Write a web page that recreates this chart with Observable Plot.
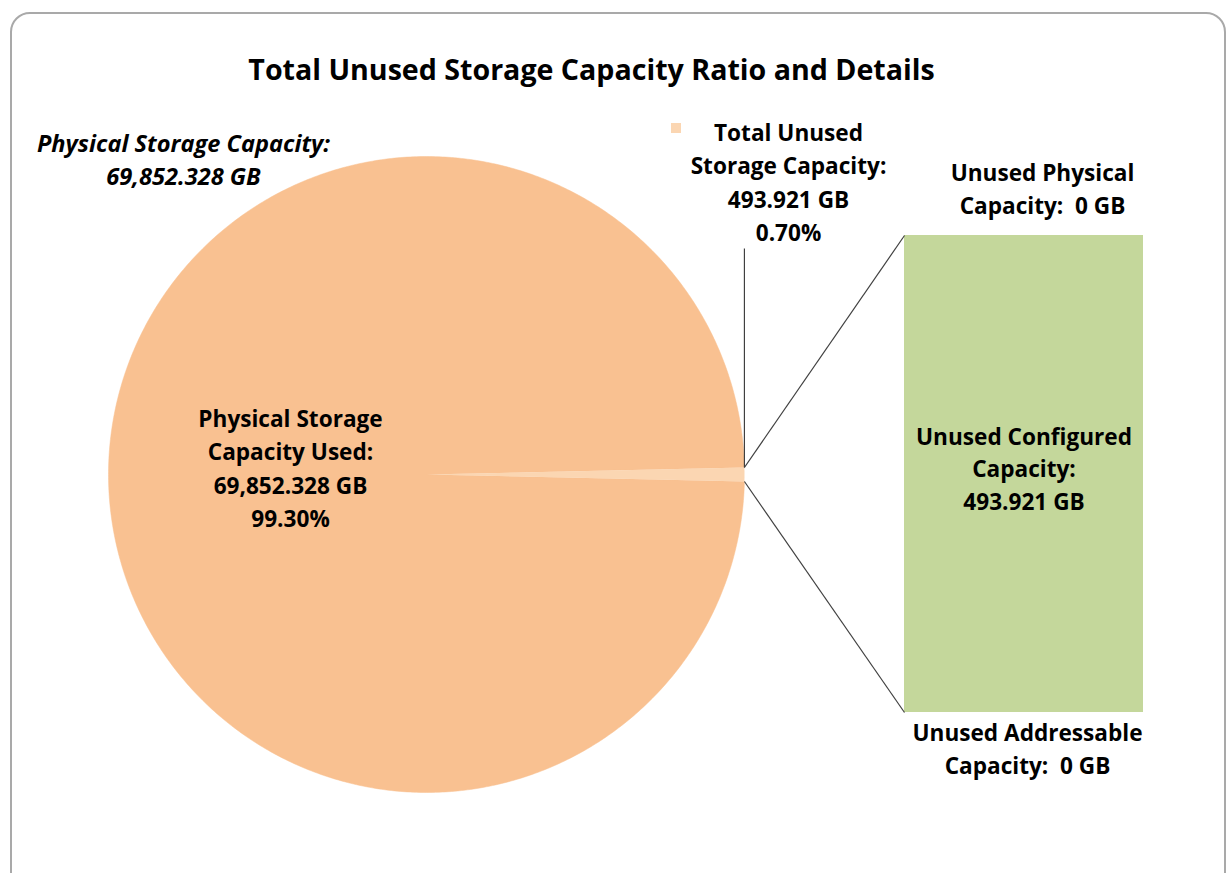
<!DOCTYPE html>
<html>
<head>
<meta charset="utf-8">
<script src="https://cdn.jsdelivr.net/npm/d3@7"></script>
<script src="https://cdn.jsdelivr.net/npm/@observablehq/plot@0.6"></script>
<style>
  html, body { margin: 0; padding: 0; background: #fff; width: 1232px; height: 873px; overflow: hidden; }
  #frame { position: absolute; left: 10px; top: 12px; width: 1216px; height: 900px; border: 2px solid #a9a9a9; border-radius: 20px; box-sizing: border-box; }
  #chart { position: absolute; left: 0; top: 0; }
  svg text { font-family: "Open Sans", Lato, sans-serif; }
</style>
</head>
<body>
<div id="frame"></div>
<div id="chart"></div>
<script>
// ---- data ----
const titleText = "Total Unused Storage Capacity Ratio and Details";
const pieCategories = ["Physical Storage Capacity Used", "Total Unused Storage Capacity"];
const pieValues = [69852.328, 493.921];
const piePercents = ["99.30%", "0.70%"];
const barCategories = ["Unused Physical Capacity", "Unused Configured Capacity", "Unused Addressable Capacity"];
const barValues = [0, 493.921, 0];
const totalCapacityLabel = ["Physical Storage Capacity:", "69,852.328 GB"];
const usedLabel = ["Physical Storage", "Capacity Used:", "69,852.328 GB", "99.30%"];
const unusedLabel = ["Total Unused", "Storage Capacity:", "493.921 GB", "0.70%"];
const physLabel = ["Unused Physical", "Capacity:  0 GB"];
const confLabel = ["Unused Configured", "Capacity:", "493.921 GB"];
const addrLabel = ["Unused Addressable", "Capacity:  0 GB"];

// ---- layout ----
const W = 1232, H = 873;
const cx = 426, cy = 474, r = 318;
const bar = {x0: 904, x1: 1143, y0: 235, y1: 712};
const colors = {used: "#f9c191", unused: "#fbd6b2", bar: "#c4d79b", line: "#404040"};

const total = d3.sum(pieValues);
const f = pieValues[1] / total;           // fraction of unused slice
const halfA = f * Math.PI;                 // half angle of unused slice, centered pointing right

function arcPoints(a0, a1, name) {
  const pts = [{slice: name, x: cx, y: cy}];
  const n = Math.max(2, Math.ceil(Math.abs(a1 - a0) / 0.01));
  for (let i = 0; i <= n; i++) {
    const a = a0 + (a1 - a0) * i / n;
    pts.push({slice: name, x: cx + r * Math.cos(a), y: cy - r * Math.sin(a)});
  }
  pts.push({slice: name, x: cx, y: cy});
  return pts;
}
const usedPts = arcPoints(halfA, 2 * Math.PI - halfA, pieCategories[0]);
const unusedPts = arcPoints(-halfA, halfA, pieCategories[1]);

// bar segments stacked top -> bottom
const barTotal = d3.sum(barValues);
let acc = 0;
const barSegs = barCategories.map((c, i) => {
  const s = {cat: c, y0: bar.y0 + (bar.y1 - bar.y0) * acc / barTotal};
  acc += barValues[i];
  s.y1 = bar.y0 + (bar.y1 - bar.y0) * acc / barTotal;
  return s;
});

const topEdge = {x: cx + r * Math.cos(halfA), y: cy - r * Math.sin(halfA)};
const botEdge = {x: cx + r * Math.cos(-halfA), y: cy - r * Math.sin(-halfA)};
const connectors = [
  {x1: topEdge.x, y1: topEdge.y, x2: bar.x0, y2: bar.y0},
  {x1: botEdge.x, y1: botEdge.y, x2: bar.x0, y2: bar.y1}
];
const leader = [{x1: topEdge.x, y1: topEdge.y, x2: topEdge.x, y2: 248}];

function lines(arr, x, yStart, dy) {
  return arr.map((t, i) => ({t, x, y: yStart + i * dy}));
}
const fs = 22.6, lh = 33.5;

const plot = Plot.plot({
  width: W, height: H, margin: 0,
  x: {domain: [0, W], range: [0, W], axis: null},
  y: {domain: [0, H], range: [0, H], axis: null},
  marks: [
    Plot.line(usedPts, {x: "x", y: "y", fill: colors.used, stroke: colors.used, strokeWidth: 0.5}),
    Plot.line(unusedPts, {x: "x", y: "y", fill: colors.unused, stroke: "none"}),
    Plot.rect(barSegs, {x1: () => bar.x0, x2: () => bar.x1, y1: "y0", y2: "y1", fill: colors.bar}),
    Plot.link(connectors, {x1: "x1", y1: "y1", x2: "x2", y2: "y2", stroke: colors.line, strokeWidth: 1.2}),
    Plot.link(leader, {x1: "x1", y1: "y1", x2: "x2", y2: "y2", stroke: colors.line, strokeWidth: 1.2}),
    // legend square
    Plot.rect([pieCategories[1]], {x1: () => 671, x2: () => 681, y1: () => 123, y2: () => 133, fill: colors.unused}),
    // title
    Plot.text([titleText], {x: () => 591, y: () => 70, text: d => d, fontSize: 28.6, fontWeight: "bold", fill: "#000"}),
    Plot.text(lines(totalCapacityLabel, 183, 144, 33), {x: "x", y: "y", text: "t", fontSize: 23.6, fontWeight: "bold", fontStyle: "italic", fill: "#000"}),
    Plot.text(lines(usedLabel, 290, 419, lh), {x: "x", y: "y", text: "t", fontSize: fs, fontWeight: "bold", fill: "#000"}),
    Plot.text(lines(unusedLabel, 788, 133, lh), {x: "x", y: "y", text: "t", fontSize: fs, fontWeight: "bold", fill: "#000"}),
    Plot.text(lines(physLabel, 1042, 173, lh), {x: "x", y: "y", text: "t", fontSize: fs, fontWeight: "bold", fill: "#000"}),
    Plot.text(lines(confLabel, (bar.x0 + bar.x1) / 2, 437, 32.5), {x: "x", y: "y", text: "t", fontSize: fs, fontWeight: "bold", fill: "#000"}),
    Plot.text(lines(addrLabel, 1027, 733, lh), {x: "x", y: "y", text: "t", fontSize: fs, fontWeight: "bold", fill: "#000"})
  ]
});
document.getElementById("chart").appendChild(plot);
</script>
</body>
</html>
